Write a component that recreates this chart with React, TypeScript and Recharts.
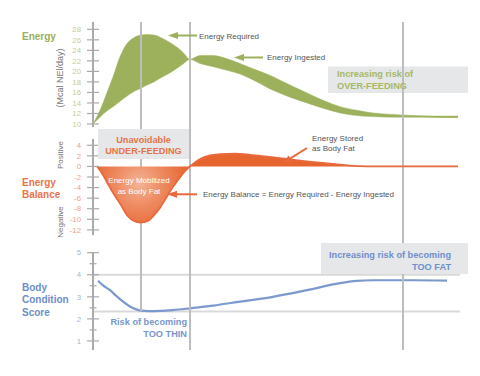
import { ComposedChart, Area, Line, XAxis, YAxis, ReferenceLine } from 'recharts';

// x = days since calving (roughly one unit per pixel across the plot)
const energyDays = [0, 7, 14, 20, 27, 34, 40, 48, 54, 61, 67, 75, 84, 90, 97, 107, 120, 134, 147, 164, 180, 197, 214, 230, 247, 264, 280, 300, 320, 340, 365];
const energyRequired = [10, 12.6, 16, 19, 22.8, 25.3, 26.3, 26.9, 27, 26.9, 26.5, 25.7, 24.6, 23.6, 22.3, 21.5, 20.9, 20.2, 19.5, 18, 16.4, 15.1, 14, 13, 12.1, 11.6, 11.4, 11.3, 11.3, 11.25, 11.2];
const energyIngested = [10, 11.3, 12.5, 13.3, 14.3, 15.3, 16.1, 16.8, 17.4, 18, 18.7, 19.5, 20.6, 21.4, 22.3, 23, 23, 22.4, 21.5, 20.2, 19, 17.4, 15.9, 14.5, 13.3, 12.6, 12.1, 11.8, 11.6, 11.5, 11.5];

const balanceDays = [4, 8, 14, 20, 27, 34, 40, 48, 54, 57, 61, 67, 72, 77, 84, 90, 97, 107, 117, 127, 142, 157, 172, 190, 207, 227, 247, 267, 280, 365];
const energyBalance = [0, -1, -3, -5, -7, -9.2, -10.2, -10.6, -10.4, -10, -9.2, -7.8, -6.3, -4.7, -2.8, -1.3, 0, 1.4, 2.1, 2.3, 2.4, 2.2, 1.9, 1.5, 1.1, 0.7, 0.35, 0.05, 0, 0];

const bcsDays = [5, 10, 17, 23, 30, 37, 44, 48, 55, 67, 80, 97, 120, 147, 180, 214, 247, 264, 280, 320, 354];
const bodyCondition = [3.73, 3.52, 3.3, 3.05, 2.78, 2.56, 2.42, 2.37, 2.35, 2.36, 2.4, 2.48, 2.6, 2.78, 3.0, 3.3, 3.62, 3.72, 3.75, 3.75, 3.73];

const energyTicks = [10, 12, 14, 16, 18, 20, 22, 24, 26, 28];
const balanceTicks = [-12, -10, -8, -6, -4, -2, 0, 2, 4];
const bcsTicks = [1, 1.5, 2, 2.5, 3, 3.5, 4, 4.5, 5];

const peakDay = 48;
const phaseDays = [97, 310];
const bcsGuides = [4, 2.33];
const bcsLow = 2.36;

const energyData = energyDays.map((day, i) => ({
  day,
  band: [Math.min(energyRequired[i], energyIngested[i]), Math.max(energyRequired[i], energyIngested[i])],
}));
const balanceData = balanceDays.map((day, i) => ({ day, balance: energyBalance[i] }));
const bcsData = bcsDays.map((day, i) => ({ day, bcs: bodyCondition[i] }));

const GREEN = '#9db15c';
const ORANGE = '#e8693c';
const BLUE = '#7b98cf';
const GRID = '#bdbdbd';
const AXIS = '#a9a9a9';

const makeTick = (color: string) => (props: any) => {
  const { x, y, payload } = props;
  const major = Number.isInteger(payload.value);
  const half = major ? 6 : 3.5;
  return (
    <g>
      <line x1={x - half} x2={x + half} y1={y} y2={y} stroke={AXIS} strokeWidth={1.2} />
      {major && (
        <text x={x - 12} y={y + 2.7} textAnchor="end" fontSize={7.8} fill={color}>
          {payload.value}
        </text>
      )}
    </g>
  );
};

const label = { fontSize: 8, fill: '#555' };
const note = { fontSize: 9.2, fontWeight: 700 };

export default function App() {
  return (
    <div style={{ position: 'absolute', left: 0, top: 0, width: 480, height: 376, background: '#fff', fontFamily: '"Liberation Sans", Arial, sans-serif' }}>
      {/* box sits under the chart so the grid line shows through */}
      <svg width={480} height={376} style={{ position: 'absolute', left: 0, top: 0 }}>
        <rect x={328} y={66.5} width={140} height={26.5} fill="#e6e7e8" />
      </svg>
      <div style={{ position: 'absolute', left: 0, top: 0 }}>
        <ComposedChart width={480} height={376} data={energyData} margin={{ top: 22, right: 20, bottom: 26, left: 93 }}>
          <defs>
            <radialGradient id="balFill" gradientUnits="userSpaceOnUse" cx={139} cy={183} r={50}>
              <stop offset="0" stopColor="#f4b497" />
              <stop offset="0.45" stopColor="#ee8c63" />
              <stop offset="1" stopColor="#e6652f" />
            </radialGradient>
          </defs>
          <XAxis type="number" dataKey="day" domain={[0, 367]} allowDataOverflow hide />
          <YAxis yAxisId="en" type="number" width={0.01} domain={[-32.97, 29.39]} allowDataOverflow ticks={energyTicks} interval={0}
            axisLine={false} tickLine={false} tickSize={0} tickMargin={0} tick={makeTick('#c6cd8f')} />
          <YAxis yAxisId="bal" type="number" width={0.01} domain={[-34.7, 27.3]} allowDataOverflow ticks={balanceTicks} interval={0}
            axisLine={false} tickLine={false} tickSize={0} tickMargin={0} tick={makeTick('#f1a183')} />
          <YAxis yAxisId="bcs" type="number" width={0.01} domain={[0.59, 15.45]} allowDataOverflow ticks={bcsTicks} interval={0}
            axisLine={false} tickLine={false} tickSize={0} tickMargin={0} tick={makeTick('#a7b7da')} />

          <Area yAxisId="en" data={energyData} dataKey="band" type="monotone" fill={GREEN} fillOpacity={1} stroke={GREEN} strokeWidth={0.5} isAnimationActive={false} activeDot={false} />

          {bcsGuides.map(v => (
            <ReferenceLine key={v} yAxisId="bcs" y={v} stroke="#d9d9d9" strokeWidth={2} />
          ))}
          <Line yAxisId="bcs" data={bcsData} dataKey="bcs" type="monotone" stroke={BLUE} strokeWidth={2.2} dot={false} activeDot={false} isAnimationActive={false} />

          {/* axis lines, one per panel */}
          <ReferenceLine yAxisId="en" segment={[{ x: 0, y: 29.39 }, { x: 0, y: 9.4 }]} stroke={AXIS} strokeWidth={2} />
          <ReferenceLine yAxisId="bal" segment={[{ x: 0, y: 5.2 }, { x: 0, y: -13 }]} stroke={AXIS} strokeWidth={2} />
          <ReferenceLine yAxisId="bcs" segment={[{ x: 0, y: 5.03 }, { x: 0, y: 0.59 }]} stroke={AXIS} strokeWidth={2} />

          <ReferenceLine yAxisId="bcs" segment={[{ x: peakDay, y: 15.45 }, { x: peakDay, y: bcsLow }]} stroke={GRID} strokeWidth={2} />
          {phaseDays.map(d => (
            <ReferenceLine key={d} yAxisId="bcs" x={d} stroke={GRID} strokeWidth={2} />
          ))}

          {/* the balance area covers the grid lines */}
          <Area yAxisId="bal" zIndex={1000} data={balanceData} dataKey="balance" type="monotone" baseValue={0} fill="url(#balFill)" fillOpacity={1} stroke={ORANGE} strokeWidth={1.8} isAnimationActive={false} activeDot={false} />
        </ComposedChart>
      </div>
      <svg width={480} height={376} style={{ position: 'absolute', left: 0, top: 0, pointerEvents: 'none' }}>
        {/* panel titles */}
        <text x={22} y={39.5} fontSize={10} fontWeight={700} fill="#9aae5c">Energy</text>
        <text x={60} y={78} fontSize={9} fill="#777" textAnchor="middle" dominantBaseline="central" transform="rotate(-90 60 78)">(Mcal NEl/day)</text>

        <text x={22} y={186} fontSize={10} fontWeight={700} fill="#e9744a">Energy</text>
        <text x={22} y={197.5} fontSize={10} fontWeight={700} fill="#e9744a">Balance</text>
        <text x={60} y={155} fontSize={8} fill="#777" textAnchor="middle" dominantBaseline="central" transform="rotate(-90 60 155)">Positive</text>
        <text x={60} y={222} fontSize={8} fill="#777" textAnchor="middle" dominantBaseline="central" transform="rotate(-90 60 222)">Negative</text>

        <text x={22} y={290.5} fontSize={10} fontWeight={700} fill="#6d8ec9">Body</text>
        <text x={22} y={303} fontSize={10} fontWeight={700} fill="#6d8ec9">Condition</text>
        <text x={22} y={315.5} fontSize={10} fontWeight={700} fill="#6d8ec9">Score</text>

        {/* shaded notes */}
        <rect x={98} y={129} width={91} height={30} fill="#e6e7e8" />
        <text x={143.5} y={142.5} textAnchor="middle" {...note} fill="#e8744a">Unavoidable</text>
        <text x={143.5} y={153.8} textAnchor="middle" {...note} fill="#e8744a">UNDER-FEEDING</text>

        <text x={337} y={76.7} {...note} fill="#a5b968">Increasing risk of</text>
        <text x={337} y={89} {...note} fill="#a5b968">OVER-FEEDING</text>

        <rect x={321} y={243} width={147} height={31} fill="#e6e7e8" />
        <text x={451} y={257.5} textAnchor="end" {...note} fill="#6f8fcb">Increasing risk of becoming</text>
        <text x={451} y={269.7} textAnchor="end" {...note} fill="#6f8fcb">TOO FAT</text>

        <text x={187} y={325} textAnchor="end" {...note} fill="#7896cc">Risk of becoming</text>
        <text x={187} y={337} textAnchor="end" {...note} fill="#7896cc">TOO THIN</text>

        {/* callouts */}
        <line x1={176} y1={35.5} x2={197} y2={35.5} stroke={GREEN} strokeWidth={2} />
        <polygon points="168,35.5 178,32 178,39" fill={GREEN} />
        <text x={199} y={38.5} {...label}>Energy Required</text>

        <line x1={242} y1={57.5} x2={263} y2={57.5} stroke={GREEN} strokeWidth={2} />
        <polygon points="234,57.5 244,54 244,61" fill={GREEN} />
        <text x={267} y={60.3} {...label}>Energy Ingested</text>

        <text x={139} y={183} textAnchor="middle" fontSize={8} fill="#fff">Energy Mobilized</text>
        <text x={139} y={193.5} textAnchor="middle" fontSize={8} fill="#fff">as Body Fat</text>

        <line x1={175} y1={194.3} x2={197} y2={194.3} stroke={ORANGE} strokeWidth={2} />
        <polygon points="167,194.3 177,190.8 177,197.8" fill={ORANGE} />
        <text x={203} y={197} {...label}>Energy Balance = Energy Required - Energy Ingested</text>

        <line x1={307} y1={148} x2={288} y2={159.8} stroke={ORANGE} strokeWidth={2} />
        <polygon points="283,163 288.5,155.5 292.5,162" fill={ORANGE} />
        <text x={312} y={140.7} {...label}>Energy Stored</text>
        <text x={312} y={150.7} {...label}>as Body Fat</text>
      </svg>
    </div>
  );
}
